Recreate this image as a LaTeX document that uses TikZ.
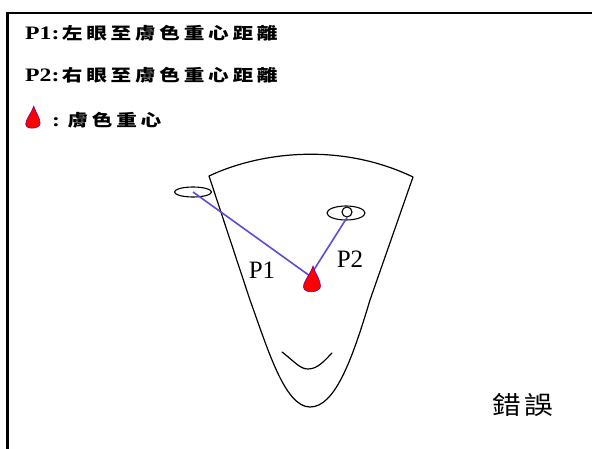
\documentclass[tikz,border=0pt]{standalone}
\usepackage{graphicx}
\usepackage{fontspec}
\setmainfont{Liberation Serif}
\newfontfamily\cjk{Noto Sans CJK TC}
\usetikzlibrary{shapes.geometric}

% put a fixed gap after every character of a CJK string
\newlength\cjkgap
\makeatletter
\newcommand\spreadcjk[1]{\@tfor\cjk@c:=#1\do{\cjk@c\hspace{\cjkgap}}}
\makeatother

\definecolor{linkblue}{RGB}{95,75,215}

\begin{document}
\begin{tikzpicture}[x=1pt,y=-1pt,
  frame/.style={line width=2.3pt},
  face/.style={line width=1.2pt,line join=round,line cap=round},
  eye/.style={draw,ellipse,line width=1.1pt,inner sep=0pt},
  link/.style={draw=linkblue,line width=1.6pt},
  legend/.style={anchor=west,inner sep=0pt},
  plabel/.style={inner sep=0pt,font=\fontsize{25}{25}\selectfont},
  drop/.pic={
    \filldraw[fill=red,draw=blue!55!red,line width=0.6pt]
      (1.5,-15) .. controls (4,-7) and (9,-1) .. (9,5)
      .. controls (9,12) and (-8,13) .. (-8,6)
      .. controls (-8,0) and (-1,-7) .. (1.5,-15) -- cycle;
  }]
\useasboundingbox (0,0) rectangle (592,449);
\fill[white] (0,0) rectangle (592,449);

% border
\draw[frame] (7.5,449) -- (7.5,13) -- (592,13);

% legend
\setlength\cjkgap{3pt}
\node[legend] (line1) at (25,33) {\scalebox{1.25}[1]{\fontsize{19}{19}\selectfont\bfseries P1:\hspace{2pt}\cjk\fontsize{16.5}{16.5}\selectfont\bfseries\spreadcjk{左眼至膚色重心距離}}};
\node[legend] (line2) at (25,75) {\scalebox{1.25}[1]{\fontsize{19}{19}\selectfont\bfseries P2:\hspace{2pt}\cjk\fontsize{16.5}{16.5}\selectfont\bfseries\spreadcjk{右眼至膚色重心距離}}};
\pic[scale=0.85] at (32.5,119) {drop};
\node[legend] (line3) at (52,120) {\scalebox{1.25}[1]{\fontsize{19}{19}\selectfont\bfseries :\hspace{6pt}\cjk\fontsize{16.5}{16.5}\selectfont\bfseries\spreadcjk{膚色重心}}};

% face outline
\draw[face] (209,176) .. controls (260,152) and (340,142) .. (413,177)
  -- (370,300) .. controls (352,360) and (335,407) .. (310,407)
  .. controls (285,407) and (268,350) .. (250,300) -- cycle;

% mouth
\draw[face] (282,352) .. controls (295,362) and (300,369) .. (308,369)
  .. controls (318,369) and (325,360) .. (332,353);

% eyes and centroid
\node[eye,minimum width=37pt,minimum height=10pt] (leye) at (193,192) {};
\node[eye,minimum width=38pt,minimum height=14pt] (reye) at (346,213) {};
\node[draw,circle,line width=1.1pt,minimum size=10pt,inner sep=0pt] (pupil) at (347,212) {};
\coordinate (cg) at (310,276);

% distances
\draw[link] (leye.center) -- (cg);
\draw[link] (pupil.south) -- (cg);
\pic at (311.5,281) {drop};

\node[plabel] (p1) at (262,270) {P1};
\node[plabel] (p2) at (350,259) {P2};

% verdict
\node[inner sep=0pt] (verdict) at (523,405) {\scalebox{1.15}[1]{\cjk\fontsize{25}{25}\selectfont 錯\hspace{3pt}誤}};
\end{tikzpicture}
\end{document}
